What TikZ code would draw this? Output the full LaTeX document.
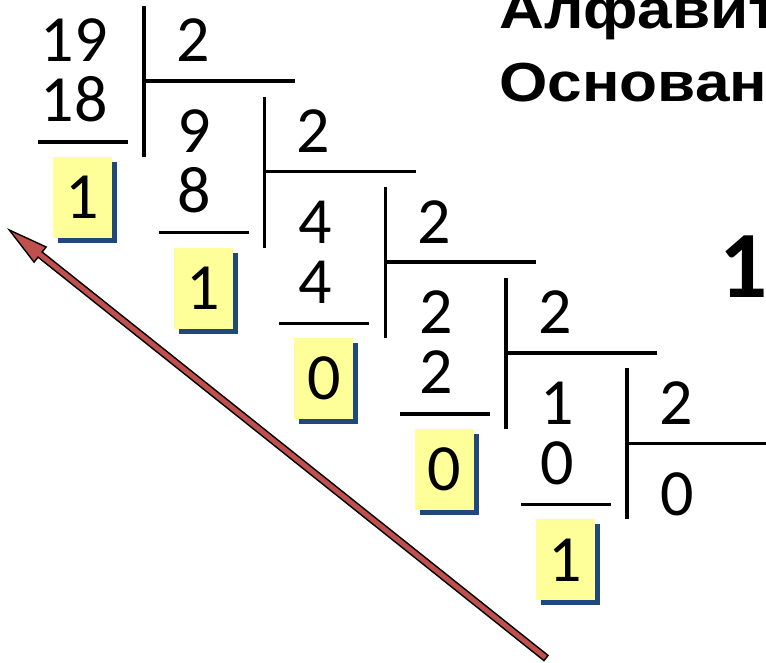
\documentclass[tikz,border=0pt]{standalone}
\usepackage{fontspec}
\setmainfont{Carlito}
\newfontfamily\titlefont{Liberation Sans}[FakeStretch=1.13]
\usetikzlibrary{calc,shadows}
\definecolor{boxyellow}{HTML}{FFFF99}
\definecolor{shadowblue}{HTML}{1F497D}
\definecolor{arrowred}{HTML}{C0504D}
\tikzset{
  bar/.style={line width=3.4pt, draw=black},
  num/.style={inner sep=0pt, font=\fontsize{66}{79}\selectfont, anchor=base},
  rbox/.style={fill=boxyellow, minimum width=59pt, minimum height=81pt, inner sep=0pt,
    font=\fontsize{66}{79}\selectfont,
    drop shadow={shadow xshift=5pt, shadow yshift=-5pt, fill=shadowblue, opacity=1}},
  titletext/.style={inner sep=0pt, anchor=base west, font=\titlefont\bfseries\fontsize{55}{66}\selectfont},
  bigone/.style={inner sep=0pt, anchor=base west, font=\bfseries\fontsize{95}{110}\selectfont},
  redarrow/.style={fill=arrowred, draw=black, line width=1.4pt, line join=miter}
}
\begin{document}
\begin{tikzpicture}[x=1pt, y=-1pt]
\useasboundingbox (0,0) rectangle (766,663);
\clip (0,0) rectangle (766,663);
\fill[white] (0,0) rectangle (766,663);

\node[titletext] (t1) at (499,29) {Алфавит};
\node[titletext] (t2) at (499,101.5) {Основан};
\node[bigone] (one) at (719,298) {1};

\foreach \k/\va/\vb/\vc in {0/19/18/1, 1/9/8/1, 2/4/4/0, 3/2/2/0, 4/1/0/1} {
  \pgfmathsetmacro\bx{144+120.7*\k}
  \pgfmathsetmacro\by{90.6*\k}
  \coordinate (vt\k) at (\bx, 6+\by);
  \coordinate (vb\k) at (\bx, 157+\by);
  \coordinate (hl\k) at (\bx, 81+\by);
  \coordinate (hr\k) at (\bx+151, 81+\by);
  \coordinate (ua\k) at (\bx-106, 142+\by);
  \coordinate (ub\k) at (\bx-16, 142+\by);
  \draw[bar] (vt\k) -- (vb\k);
  \draw[bar] (hl\k) -- (hr\k);
  \draw[bar] (ua\k) -- (ub\k);
  \node[num] (dv\k) at (\bx-70, 62+\by) {\va};
  \node[num] (sb\k) at (\bx-70, 122+\by) {\vb};
  \node[num] (ds\k) at (\bx+49, 62+\by) {2};
  \node[rbox] (r\k) at (\bx-61.5, 197.5+\by) {\vc};
}
\node[num] (q) at (677.5,515) {0};

\coordinate (tip) at (9.3,230);
\coordinate (tail) at (546,658);
\coordinate (hb) at ($(tip)!39.4pt!(tail)$);
\filldraw[redarrow] (tip) -- ($(hb)!9.7pt!90:(tip)$) -- ($(hb)!3.3pt!90:(tip)$)
  -- ($(tail)!3.3pt!90:(tip)$) -- ($(tail)!3.3pt!-90:(tip)$)
  -- ($(hb)!3.3pt!-90:(tip)$) -- ($(hb)!9.7pt!-90:(tip)$) -- cycle;
\end{tikzpicture}
\end{document}
